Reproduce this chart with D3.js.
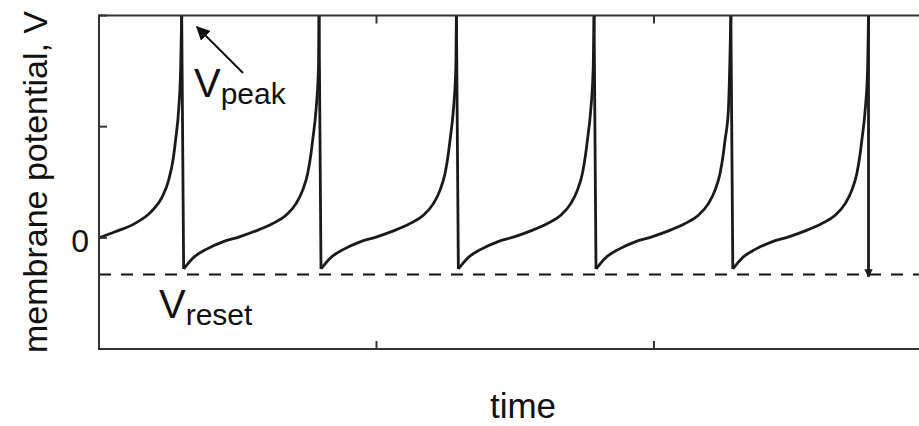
<!DOCTYPE html>
<html>
<head>
<meta charset="utf-8">
<script src="https://cdn.jsdelivr.net/npm/d3@7"></script>
<style>
  body { margin: 0; background: #fff; }
  text { font-family: "Liberation Sans", Arial, sans-serif; fill: #111; }
</style>
</head>
<body>
<script>
// spike times (x units, axis 0..3)
const spikeTimes = [0.298, 0.793, 1.288, 1.784, 2.277, 2.773];

// first rising piece, from t = 0 up to the first spike
const firstT = [0, 0.058, 0.130, 0.190, 0.226, 0.250, 0.268, 0.276, 0.287, 0.294];
const firstV = [0, 0.055, 0.13, 0.24, 0.36, 0.51, 0.72, 0.88, 1.15, 1.5];

// shape of one inter-spike cycle: time after a spike, potential
const cycleDt = [0.007, 0.040, 0.088, 0.148, 0.208, 0.268, 0.328, 0.376, 0.412, 0.436, 0.454, 0.466, 0.472, 0.484, 0.493];
const cycleV = [-0.28, -0.183, -0.104, -0.036, 0.009, 0.063, 0.129, 0.203, 0.308, 0.429, 0.579, 0.759, 0.879, 1.148, 1.538];

const vPeak = 2;
const vReset = -0.33;
const lastDropV = -0.35;

const yTicks = [-1, 0, 1, 2];
const xTicks = [1, 2];

let margin = {top: 15.5, left: 99};
let W = 919, H = 426;
let plotBottom = 349;

let x = d3.scaleLinear().domain([0, 3]).range([margin.left, 931.5]);
let y = d3.scaleLinear().domain([-1, 2]).range([plotBottom, margin.top]);

let svg = d3.select("body").append("svg")
  .attr("width", W)
  .attr("height", H);

let defs = svg.append("defs");
defs.append("marker")
  .attr("id", "tip")
  .attr("viewBox", "0 0 10 10")
  .attr("refX", 9).attr("refY", 5)
  .attr("markerWidth", 7).attr("markerHeight", 7)
  .attr("orient", "auto")
  .append("path")
  .attr("d", "M0,0 L10,5 L0,10 z")
  .attr("fill", "#111");
defs.append("marker")
  .attr("id", "smalltip")
  .attr("viewBox", "0 0 10 10")
  .attr("refX", 9).attr("refY", 5)
  .attr("markerWidth", 3).attr("markerHeight", 3)
  .attr("orient", "auto")
  .append("path")
  .attr("d", "M0,0 L10,5 L0,10 z")
  .attr("fill", "#1a1a1a");

// dashed reset line
svg.append("line")
  .attr("x1", x(0)).attr("x2", W)
  .attr("y1", y(vReset)).attr("y2", y(vReset))
  .attr("stroke", "#111")
  .attr("stroke-width", 2)
  .attr("stroke-dasharray", "12,10");

let line = d3.line()
  .x(d => x(d[0]))
  .y(d => y(d[1]))
  .curve(d3.curveMonotoneX);

// rising pieces
let pieces = [];
let first = firstT.map((t, i) => [t, firstV[i]]);
first.push([spikeTimes[0], vPeak]);
pieces.push(first);
for (let i = 0; i < spikeTimes.length - 1; i++) {
  let ts = spikeTimes[i], next = spikeTimes[i + 1];
  let p = cycleDt.map((dt, j) => [ts + dt, cycleV[j]]).filter(d => d[0] < next - 0.001);
  p.push([next, vPeak]);
  pieces.push(p);
}

svg.selectAll(".rise")
  .data(pieces)
  .enter().append("path")
  .attr("class", "rise")
  .attr("d", line)
  .attr("fill", "none")
  .attr("stroke", "#1a1a1a")
  .attr("stroke-width", 2.8);

// the drops back to reset
svg.selectAll(".drop")
  .data(spikeTimes)
  .enter().append("line")
  .attr("class", "drop")
  .attr("x1", d => x(d)).attr("y1", y(vPeak))
  .attr("x2", (d, i) => i < spikeTimes.length - 1 ? x(d + cycleDt[0]) : x(d))
  .attr("y2", (d, i) => i < spikeTimes.length - 1 ? y(cycleV[0]) : y(lastDropV))
  .attr("stroke", "#1a1a1a")
  .attr("stroke-width", 2.8)
  .attr("marker-end", (d, i) => i === spikeTimes.length - 1 ? "url(#smalltip)" : null);

// frame
svg.append("rect")
  .attr("x", x(0)).attr("y", y(2))
  .attr("width", x(3) - x(0)).attr("height", y(-1) - y(2))
  .attr("fill", "none")
  .attr("stroke", "#333")
  .attr("stroke-width", 2);

// inward ticks
let tl = 8;
svg.selectAll(".yt").data(yTicks).enter().append("line")
  .attr("x1", x(0)).attr("x2", x(0) + tl)
  .attr("y1", d => y(d)).attr("y2", d => y(d))
  .attr("stroke", "#333").attr("stroke-width", 2);
svg.selectAll(".xtb").data(xTicks).enter().append("line")
  .attr("x1", d => x(d)).attr("x2", d => x(d))
  .attr("y1", y(-1)).attr("y2", y(-1) - tl)
  .attr("stroke", "#333").attr("stroke-width", 2);
svg.selectAll(".xtt").data(xTicks).enter().append("line")
  .attr("x1", d => x(d)).attr("x2", d => x(d))
  .attr("y1", y(2)).attr("y2", y(2) + tl)
  .attr("stroke", "#333").attr("stroke-width", 2);

// tick label
svg.append("text")
  .attr("x", 89).attr("y", y(0) + 14)
  .attr("text-anchor", "end")
  .style("font-size", "32px")
  .text("0");

// axis labels
svg.append("text")
  .attr("x", 523).attr("y", 418)
  .attr("text-anchor", "middle")
  .style("font-size", "35px")
  .text("time");

svg.append("text")
  .attr("transform", "translate(47,182) rotate(-90)")
  .attr("text-anchor", "middle")
  .style("font-size", "34px")
  .text("membrane potential, V");

// annotations
svg.append("line")
  .attr("x1", 243).attr("y1", 73)
  .attr("x2", 197).attr("y2", 27)
  .attr("stroke", "#111").attr("stroke-width", 2)
  .attr("marker-end", "url(#tip)");

let peak = svg.append("text").attr("x", 194).attr("y", 97);
peak.append("tspan").style("font-size", "40px").text("V");
peak.append("tspan").attr("dy", 7).style("font-size", "30px").text("peak");

let reset = svg.append("text").attr("x", 159).attr("y", 318);
reset.append("tspan").style("font-size", "40px").text("V");
reset.append("tspan").attr("dy", 7).style("font-size", "30px").text("reset");
</script>
</body>
</html>
